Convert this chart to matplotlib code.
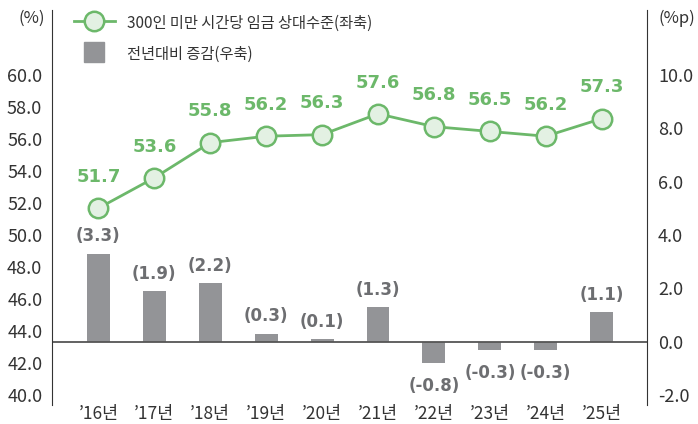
import matplotlib
matplotlib.use("Agg")
import matplotlib.pyplot as plt
from matplotlib.lines import Line2D
import numpy as np

plt.rcParams['font.family'] = ['Noto Sans CJK KR', 'DejaVu Sans']

years = ["’16년", "’17년", "’18년", "’19년", "’20년", "’21년", "’22년", "’23년", "’24년", "’25년"]
level = [51.7, 53.6, 55.8, 56.2, 56.3, 57.6, 56.8, 56.5, 56.2, 57.3]
change = [3.3, 1.9, 2.2, 0.3, 0.1, 1.3, -0.8, -0.3, -0.3, 1.1]
left_ticks = [40.0, 42.0, 44.0, 46.0, 48.0, 50.0, 52.0, 54.0, 56.0, 58.0, 60.0]
right_ticks = [-2.0, 0.0, 2.0, 4.0, 6.0, 8.0, 10.0]

green = "#6cb86a"
green_face = "#e3f1e3"
bar_gray = "#939497"
label_gray = "#6d6e71"
text_col = "#333333"

fig = plt.figure(figsize=(6.98, 4.24), dpi=100)
ax = fig.add_axes([52 / 698, 19 / 424, 595 / 698, 395 / 424])
ax2 = ax.twinx()
ax.set_zorder(ax2.get_zorder() + 1)
ax.patch.set_visible(False)

x = np.arange(len(years))

# bars on right axis
ax2.bar(x, change, width=0.41, color=bar_gray, zorder=2)
ax2.axhline(0, color="#555555", lw=1.3, zorder=3)
for xi, v in zip(x, change):
    if v >= 0:
        ax2.annotate(f"({v:.1f})", (xi, v), xytext=(0, 6), textcoords="offset points",
                     ha="center", va="bottom", fontsize=12, fontweight="bold",
                     color=label_gray, family="DejaVu Sans")
    else:
        ax2.annotate(f"({v:.1f})", (xi, v), xytext=(0, -10), textcoords="offset points",
                     ha="center", va="top", fontsize=12, fontweight="bold",
                     color=label_gray, family="DejaVu Sans")

# line on left axis
ax.plot(x, level, color=green, lw=2, marker="o", markersize=14,
        markerfacecolor=green_face, markeredgecolor=green, markeredgewidth=1.8, zorder=5)
for xi, v in zip(x, level):
    ax.annotate(f"{v:.1f}", (xi, v), xytext=(0, 16), textcoords="offset points",
                ha="center", va="bottom", fontsize=13, fontweight="bold",
                color=green, family="DejaVu Sans")

ax.set_xlim(-0.83, 9.81)
ax.set_ylim(39.4, 64.09)
ax2.set_ylim(-2.375, 12.44)

ax.set_yticks(left_ticks)
ax.set_yticklabels([f"{t:.1f}" for t in left_ticks])
ax2.set_yticks(right_ticks)
ax2.set_yticklabels([f"{t:.1f}" for t in right_ticks])
ax.set_xticks(x)
ax.set_xticklabels(years)

for a in (ax, ax2):
    a.tick_params(axis="both", length=0, labelsize=13, colors=text_col)
    for s in ("top", "bottom"):
        a.spines[s].set_visible(False)
ax.tick_params(axis="y", pad=7)
ax2.tick_params(axis="y", pad=8)
ax.tick_params(axis="x", pad=0, labelsize=12.5)
ax.spines["right"].set_visible(False)
ax2.spines["left"].set_visible(False)
ax.spines["left"].set_color("#333333")
ax2.spines["right"].set_color("#333333")

fig.text(45 / 698, 1 - 18 / 424, "(%)", ha="right", va="center", fontsize=12, color=text_col)
fig.text(658 / 698, 1 - 18 / 424, "(%p)", ha="left", va="center", fontsize=12, color=text_col)

handles = [
    Line2D([0], [0], color=green, lw=2, marker="o", markersize=14,
           markerfacecolor=green_face, markeredgecolor=green, markeredgewidth=1.8),
    Line2D([0], [0], color="none", marker="s", markersize=14,
           markerfacecolor=bar_gray, markeredgecolor=bar_gray),
]
labels = ["300인 미만 시간당 임금 상대수준(좌축)", "전년대비 증감(우축)"]
leg = fig.legend(handles, labels, loc="upper left", bbox_to_anchor=(60 / 698, 1 - 0 / 424),
                 frameon=False, fontsize=11, labelspacing=0.9, handlelength=2.7,
                 handleheight=1.4, handletextpad=0.8)
for t in leg.get_texts():
    t.set_color(text_col)

fig.savefig("out.png", dpi=100)
